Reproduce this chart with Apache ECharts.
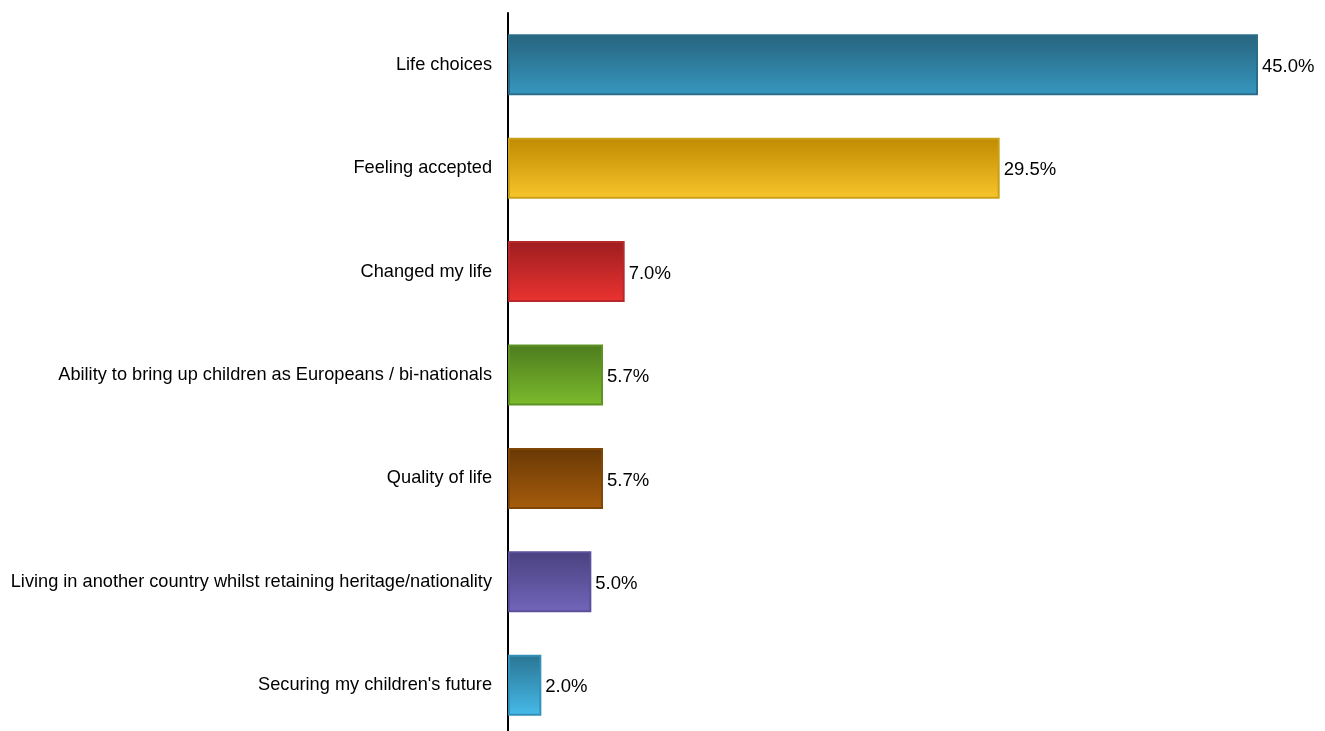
<!DOCTYPE html>
<html><head><meta charset="utf-8">
<script src="https://cdn.jsdelivr.net/npm/echarts@6/dist/echarts.min.js"></script>
<style>html,body{margin:0;padding:0;background:#fff;overflow:hidden}#c{width:1325px;height:745px}</style>
</head><body><div id="c"></div>
<script>
const categories = ["Life choices","Feeling accepted","Changed my life","Ability to bring up children as Europeans / bi-nationals","Quality of life","Living in another country whilst retaining heritage/nationality","Securing my children's future"];
const values = [45.0, 29.5, 7.0, 5.7, 5.7, 5.0, 2.0];
const topColors = ["#27647d","#bf8a00","#9e1d20","#4d7c1e","#683805","#4a4180","#2a7594"];
const bottomColors = ["#3697c0","#f8c52c","#eb3331","#7cbb2d","#a65c0c","#7166ba","#46bbe9"];
const borderColors = ["#2b6c88","#caa018","#b8282a","#5f9225","#7f4608","#5a4f98","#3390b8"];

const chart = echarts.init(document.getElementById('c'), null, {renderer:'canvas'});
const data = values.map((v,i)=>({
  value: v,
  itemStyle: {
    color: new echarts.graphic.LinearGradient(0,0,0,1,[{offset:0,color:topColors[i]},{offset:1,color:bottomColors[i]}]),
    borderColor: borderColors[i], borderWidth: 2
  }
}));
chart.setOption({
  animation:false,
  grid:{left:508, top:13, width:800, height:724, containLabel:false},
  xAxis:{type:'value', min:0, max:48, show:false},
  yAxis:{type:'category', data:categories, inverse:true,
    axisLine:{show:true, lineStyle:{color:'#000', width:2}},
    axisTick:{show:false},
    axisLabel:{color:'#000', fontFamily:'Liberation Sans, Arial', fontSize:18.2, margin:16, padding:[4,0,0,0]}
  },
  series:[{type:'bar', data:data, barWidth:61,
    label:{show:true, position:'right', distance:4, offset:[0,2], color:'#000', fontFamily:'Liberation Sans, Arial', fontSize:18.5,
      formatter:p=>p.value.toFixed(1)+'%'}
  }]
});
</script></body></html>
